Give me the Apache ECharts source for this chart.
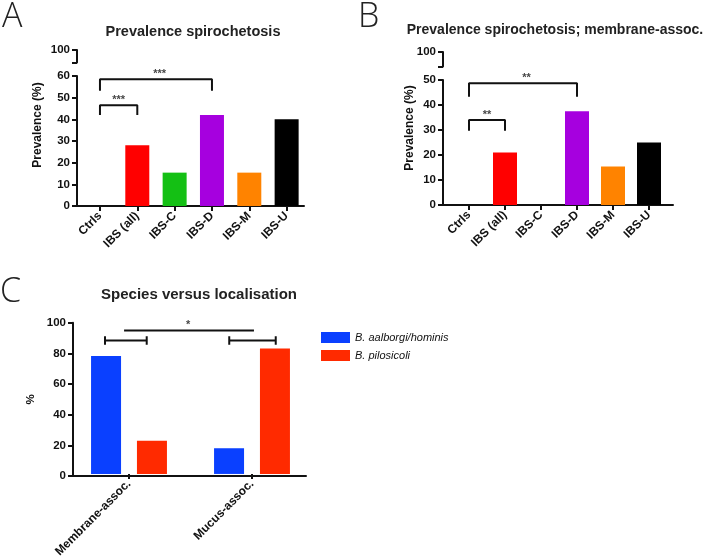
<!DOCTYPE html>
<html>
<head>
<meta charset="utf-8">
<script src="https://cdn.jsdelivr.net/npm/echarts@6/dist/echarts.min.js"></script>
<style>html,body{margin:0;padding:0;background:#fff}#c{width:711px;height:560px}</style>
</head>
<body>
<div id="c"></div>
<script>
const categories = ['Ctrls', 'IBS (all)', 'IBS-C', 'IBS-D', 'IBS-M', 'IBS-U'];
const prevalenceAll = [0, 28, 15.4, 42, 15.4, 40];
const prevalenceMembrane = [0, 21, 0, 37.5, 15.4, 25];
const groupColors = ['#000000', '#ff0000', '#14c014', '#a600df', '#ff8300', '#000000'];
const localisations = ['Membrane-assoc.', 'Mucus-assoc.'];
const speciesNames = ['B. aalborgi/hominis', 'B. pilosicoli'];
const aalborgiHominis = [78, 17];
const pilosicoli = [22, 83];
const yTicksA = [0, 60, 10];
const yTicksB = [0, 50, 10];
const yTicksC = [0, 100, 20];
// significance brackets (category-index units, value units)
const bracketA1 = [[0, 42], [0, 46.5], [1, 46.5], [1, 42]];
const bracketA2 = [[0, 53.2], [0, 58.5], [3, 58.5], [3, 53.2]];
const starsA = [[0.5, 46.5, '***'], [1.6, 58.5, '***']];
const bracketB1 = [[0, 29.7], [0, 34], [1, 34], [1, 29.7]];
const bracketB2 = [[0, 43.3], [0, 48.7], [3, 48.7], [3, 43.3]];
const starsB = [[0.5, 34, '**'], [1.6, 48.7, '**']];
const bracketC1 = [[-0.195, 85.5], [-0.195, 91], [-0.195, 88.3], [0.144, 88.3], [0.144, 91], [0.144, 85.5]];
const bracketC2 = [[0.815, 85.5], [0.815, 91], [0.815, 88.3], [1.193, 88.3], [1.193, 91], [1.193, 85.5]];
const bracketC3 = [[-0.04, 94.8], [1.016, 94.8]];
const starsC = [[0.48, 94.8, '*']];

const FONT = 'Liberation Sans, Arial, sans-serif';
const lbl = { fontFamily: FONT, fontWeight: 'bold', fontSize: 11.5, color: '#111' };
const xlbl = { fontFamily: FONT, fontWeight: 'bold', fontSize: 12, color: '#111' };
const axLine = { show: true, onZero: false, lineStyle: { color: '#111', width: 2 } };
const axTick = { show: true, length: 5, lineStyle: { color: '#111', width: 2 } };

function breakY(grid) {
  return { gridIndex: grid, type: 'value', min: 90, max: 100, interval: 10,
    axisLine: axLine, axisTick: axTick, splitLine: { show: false },
    axisLabel: Object.assign({ margin: 7, formatter: v => v === 100 ? '100' : '' }, lbl) };
}
function frameY(grid, t, name) {
  return { gridIndex: grid, type: 'value', min: t[0], max: t[1], interval: t[2],
    axisLine: axLine, axisTick: axTick, splitLine: { show: false },
    axisLabel: Object.assign({ margin: 7 }, lbl),
    name: name || '', nameLocation: 'middle', nameGap: 36, nameTextStyle: lbl };
}
function hiddenY(grid, t) {
  return { gridIndex: grid, type: 'value', min: t[0], max: t[1], interval: t[2], show: false };
}
function frameX(grid) {
  return { gridIndex: grid, type: 'value', min: 0, max: 1, axisLine: axLine,
    axisTick: { show: false }, axisLabel: { show: false }, splitLine: { show: false } };
}
function hiddenX(grid, n) {
  return { gridIndex: grid, type: 'value', min: -0.5, max: n - 0.5, show: false };
}
function catX(grid, data) {
  return { gridIndex: grid, type: 'category', data: data,
    axisLine: { show: false }, axisTick: Object.assign({ alignWithLabel: true }, axTick),
    axisLabel: Object.assign({ rotate: 45, margin: 8, interval: 0 }, xlbl) };
}
function bracket(d, xi, yi) {
  return { type: 'line', data: d, xAxisIndex: xi, yAxisIndex: yi, symbol: 'none', clip: false,
    lineStyle: { color: '#111', width: 2 }, silent: true, z: 5 };
}
function stars(d, xi, yi) {
  return { type: 'scatter', data: d, xAxisIndex: xi, yAxisIndex: yi, symbolSize: 0, clip: false,
    label: { show: true, position: 'top', distance: 0, formatter: p => p.data[2],
      fontFamily: FONT, fontWeight: 'bold', fontSize: 11, color: '#111' }, silent: true };
}
function titleText(x, y, t, size) {
  return { type: 'text', x: x, y: y, style: { text: t, fontFamily: FONT, fontWeight: 'bold',
    fontSize: size, fill: '#222', textAlign: 'center', textVerticalAlign: 'middle' } };
}
function letter(x, y, t) {
  return { type: 'text', x: x, y: y, style: { text: t, fontFamily: 'Open Sans, Liberation Sans', fontWeight: 300,
    fontSize: 34, fill: '#222', textAlign: 'left', textVerticalAlign: 'middle' } };
}
function yName(x, y) {
  return { type: 'text', x: x, y: y, rotation: Math.PI / 2, style: { text: 'Prevalence (%)', fontFamily: FONT,
    fontWeight: 'bold', fontSize: 12, fill: '#111', textAlign: 'center', textVerticalAlign: 'middle' } };
}

const chart = echarts.init(document.getElementById('c'), null, { renderer: 'canvas' });
chart.setOption({
  animation: false,
  backgroundColor: '#fff',
  grid: [
    { left: 77, top: 50, width: 227, height: 12.5 },
    { left: 77, top: 76, width: 227, height: 130 },
    { left: 81.3, top: 76, width: 224, height: 130 },
    { left: 443, top: 52, width: 230, height: 14.5 },
    { left: 443, top: 80, width: 230, height: 125 },
    { left: 451, top: 80, width: 216, height: 125 },
    { left: 73, top: 322.7, width: 233, height: 153.3 },
    { left: 67.5, top: 322.7, width: 246, height: 153.3 }
  ],
  xAxis: [
    Object.assign(frameX(0), { show: false }),
    frameX(1),
    catX(2, categories),
    hiddenX(2, categories.length),
    Object.assign(frameX(3), { show: false }),
    frameX(4),
    catX(5, categories),
    hiddenX(5, categories.length),
    frameX(6),
    catX(7, localisations),
    hiddenX(7, localisations.length)
  ],
  yAxis: [
    breakY(0),
    frameY(1, yTicksA),
    hiddenY(2, yTicksA),
    breakY(3),
    frameY(4, yTicksB),
    hiddenY(5, yTicksB),
    frameY(6, yTicksC, '%'),
    hiddenY(7, yTicksC)
  ],
  legend: {
    data: speciesNames, orient: 'vertical', left: 316, top: 327, itemWidth: 29, itemHeight: 11, itemGap: 7,
    icon: 'rect', selectedMode: false,
    textStyle: { fontFamily: FONT, fontStyle: 'italic', fontSize: 11, color: '#111' }
  },
  series: [
    { type: 'bar', xAxisIndex: 2, yAxisIndex: 2, barWidth: 24,
      data: prevalenceAll.map((v, i) => ({ value: v, itemStyle: { color: groupColors[i] } })) },
    bracket(bracketA1, 3, 2), bracket(bracketA2, 3, 2), stars(starsA, 3, 2),
    { type: 'bar', xAxisIndex: 6, yAxisIndex: 5, barWidth: 24,
      data: prevalenceMembrane.map((v, i) => ({ value: v, itemStyle: { color: groupColors[i] } })) },
    bracket(bracketB1, 7, 5), bracket(bracketB2, 7, 5), stars(starsB, 7, 5),
    { type: 'bar', name: speciesNames[0], xAxisIndex: 9, yAxisIndex: 7, barWidth: 30, barGap: '53%',
      itemStyle: { color: '#0a40ff' }, data: aalborgiHominis },
    { type: 'bar', name: speciesNames[1], xAxisIndex: 9, yAxisIndex: 7, barWidth: 30, barGap: '53%',
      itemStyle: { color: '#ff2a00' }, data: pilosicoli },
    bracket(bracketC1, 10, 7), bracket(bracketC2, 10, 7), bracket(bracketC3, 10, 7), stars(starsC, 10, 7)
  ],
  graphic: [
    letter(2, 17, 'A'), letter(358, 17, 'B'), letter(0, 292, 'C'),
    titleText(193, 32, 'Prevalence spirochetosis', 14.5),
    titleText(555, 30, 'Prevalence spirochetosis; membrane-assoc.', 14),
    titleText(199, 295, 'Species versus localisation', 15),
    yName(38, 125), yName(410, 128)
  ]
});
</script>
</body>
</html>
